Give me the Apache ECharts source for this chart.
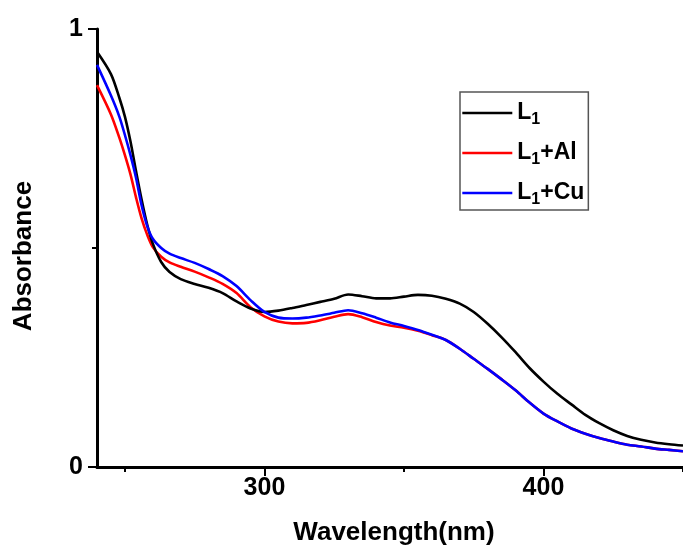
<!DOCTYPE html>
<html>
<head>
<meta charset="utf-8">
<script src="https://cdn.jsdelivr.net/npm/echarts@6/dist/echarts.min.js"></script>
<style>html,body{margin:0;padding:0;background:#fff;}#c{width:683px;height:552px;}</style>
</head>
<body>
<div id="c"></div>
<script>
const wavelengths = [240,245,248,250,252,254,256,258,260,263,266,270,275,280,285,290,295,300,305,310,315,320,325,330,335,340,345,350,355,360,365,370,375,380,385,390,395,400,405,410,415,420,425,430,435,440,445,450];
const absL1 = [0.948,0.897,0.843,0.800,0.743,0.675,0.610,0.553,0.510,0.468,0.445,0.429,0.418,0.409,0.397,0.378,0.362,0.354,0.357,0.363,0.370,0.377,0.384,0.394,0.390,0.385,0.385,0.389,0.393,0.391,0.384,0.373,0.354,0.327,0.296,0.262,0.226,0.195,0.167,0.143,0.119,0.100,0.084,0.071,0.062,0.056,0.052,0.049];
const absL1Al = [0.872,0.805,0.752,0.712,0.668,0.615,0.567,0.530,0.502,0.480,0.467,0.457,0.446,0.433,0.418,0.397,0.365,0.344,0.332,0.328,0.329,0.335,0.343,0.349,0.342,0.331,0.323,0.318,0.311,0.301,0.290,0.270,0.247,0.224,0.200,0.175,0.147,0.122,0.104,0.088,0.076,0.066,0.058,0.051,0.047,0.042,0.039,0.036];
const absL1Cu = [0.918,0.848,0.800,0.758,0.712,0.660,0.597,0.550,0.521,0.500,0.487,0.477,0.466,0.452,0.436,0.413,0.381,0.354,0.341,0.339,0.341,0.346,0.352,0.358,0.351,0.341,0.330,0.322,0.313,0.302,0.290,0.270,0.247,0.224,0.200,0.175,0.147,0.122,0.104,0.088,0.076,0.066,0.058,0.051,0.047,0.042,0.039,0.036];
const seriesNames = ['L1', 'L1+Al', 'L1+Cu'];
const xMajorTicks = [300, 400];
const xMinorTicks = [250, 350, 450];
const yMajorTicks = [0, 1];
const yMinorTicks = [0.5];

const FONT = '"Liberation Sans", Arial, sans-serif';
const pair = (ys) => wavelengths.map((w, i) => [w, ys[i]]);
const chart = echarts.init(document.getElementById('c'), null, {renderer: 'canvas'});
const axisCommon = {
  type: 'value', min: 240, max: 450,
  splitLine: {show: false}
};
chart.setOption({
  animation: false,
  backgroundColor: '#fff',
  grid: {left: 97, right: -6, top: 29, bottom: 85, containLabel: false},
  xAxis: [
    Object.assign({}, axisCommon, {
      position: 'bottom',
      name: 'Wavelength(nm)', nameLocation: 'middle', nameGap: 53,
      nameTextStyle: {fontFamily: FONT, fontWeight: 'bold', fontSize: 26, color: '#000', padding: [0, 0, 0, 8]},
      axisLine: {show: true, lineStyle: {color: '#000', width: 3}},
      axisTick: {show: true, inside: false, length: 9, lineStyle: {color: '#000', width: 2}, customValues: xMajorTicks},
      axisLabel: {show: true, margin: 9, fontFamily: FONT, fontWeight: 'bold', fontSize: 25, color: '#000', customValues: xMajorTicks}
    }),
    Object.assign({}, axisCommon, {
      position: 'bottom',
      axisLine: {show: false},
      axisTick: {show: true, inside: false, length: 5, lineStyle: {color: '#000', width: 2}, customValues: xMinorTicks},
      axisLabel: {show: false}
    })
  ],
  yAxis: [
    {
      type: 'value', min: 0, max: 1, position: 'left',
      name: 'Absorbance', nameLocation: 'middle', nameGap: 60, nameRotate: 90,
      nameTextStyle: {fontFamily: FONT, fontWeight: 'bold', fontSize: 26, color: '#000', padding: [0, 16, 0, 0]},
      splitLine: {show: false},
      axisLine: {show: true, lineStyle: {color: '#000', width: 3}},
      axisTick: {show: true, inside: false, length: 9, lineStyle: {color: '#000', width: 2}, customValues: yMajorTicks},
      axisLabel: {show: true, margin: 14, fontFamily: FONT, fontWeight: 'bold', fontSize: 25, color: '#000', customValues: yMajorTicks}
    },
    {
      type: 'value', min: 0, max: 1, position: 'left',
      splitLine: {show: false},
      axisLine: {show: false},
      axisTick: {show: true, inside: false, length: 5, lineStyle: {color: '#000', width: 2}, customValues: yMinorTicks},
      axisLabel: {show: false}
    }
  ],
  legend: {
    orient: 'vertical', left: 460, top: 92,
    padding: [0, 4, 2, 1],
    itemWidth: 50, itemHeight: 14, itemGap: 4,
    borderColor: '#555', borderWidth: 1.5,
    itemStyle: {opacity: 0},
    lineStyle: {width: 2.6},
    data: seriesNames,
    formatter: function (name) { return name.replace('L1', 'L{sub|1}'); },
    textStyle: {
      fontFamily: FONT, fontWeight: 'bold', fontSize: 23, color: '#000', lineHeight: 30,
      rich: {sub: {fontFamily: FONT, fontWeight: 'bold', fontSize: 16, color: '#000', lineHeight: 10, padding: [20, 0, 0, 0], verticalAlign: 'bottom'}}
    }
  },
  series: [
    {name: seriesNames[0], type: 'line', data: pair(absL1), showSymbol: false, symbol: 'none', smooth: 0.3, color: '#000', lineStyle: {color: '#000', width: 2.6}, z: 3},
    {name: seriesNames[1], type: 'line', data: pair(absL1Al), showSymbol: false, symbol: 'none', smooth: 0.3, color: '#ff0000', lineStyle: {color: '#ff0000', width: 2.6}, z: 2},
    {name: seriesNames[2], type: 'line', data: pair(absL1Cu), showSymbol: false, symbol: 'none', smooth: 0.3, color: '#0000ff', lineStyle: {color: '#0000ff', width: 2.6}, z: 4}
  ]
});
</script>
</body>
</html>
